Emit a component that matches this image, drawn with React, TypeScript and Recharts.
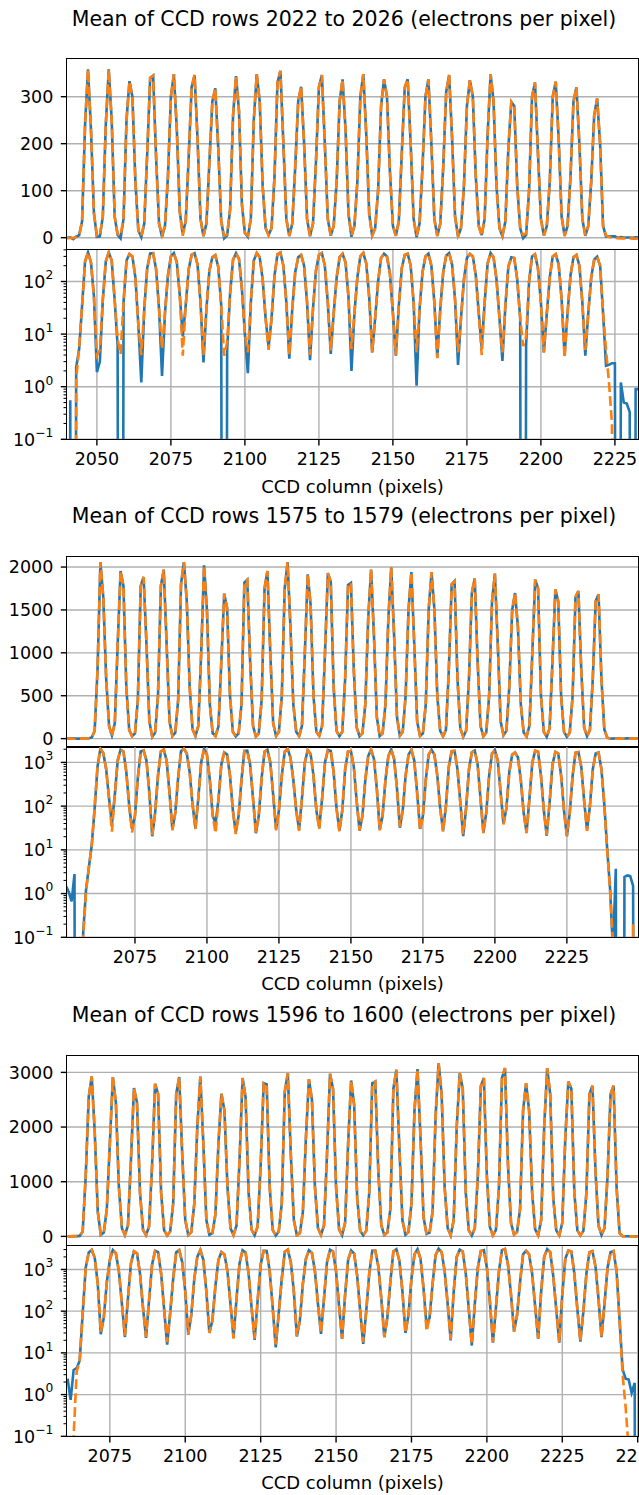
import { CartesianGrid, Line, LineChart, XAxis, YAxis } from "recharts";

// ---- data: mean electrons per pixel, one value per CCD column ----
// blue = solid line, orange = dashed line

const g1Start = 2040;
const g1Blue = [
  -0.4, 0.55, -3, 2.3, 5.2, 35, 240, 358, 230, 52,
  1.9, 3, 45, 240, 358, 250, 45, 6, -1.5, 40,
  250, 333, 300, 120, 15, 1.2, 30, 180, 340, 345,
  170, 30, 1.6, 25, 130, 300, 348, 230, 55, 9,
  35, 170, 320, 346, 210, 40, 2.9, 30, 160, 290,
  318, 190, 35, -1.2, 5, 60, 260, 344, 270, 70,
  10, 1.8, 40, 250, 348, 290, 110, 20, 5.6, 20,
  130, 330, 355, 200, 40, 3.4, 30, 150, 290, 321,
  200, 40, 3.2, 30, 160, 320, 346, 200, 40, 4.2,
  25, 120, 290, 337, 230, 50, 2, 25, 120, 300,
  348, 220, 50, 4.5, 20, 100, 280, 337, 300, 140,
  25, 3.9, 35, 180, 320, 337, 200, 40, 1.05, 30,
  150, 300, 337, 200, 40, 3.6, 30, 150, 310, 346,
  210, 45, 2.6, 20, 110, 280, 335, 300, 130, 25,
  5.6, 40, 220, 348, 290, 110, 20, 3.1, 35, 190,
  289, 280, 110, 20, -1, 6, 100, 300, 330, 180,
  40, 4.5, 25, 120, 300, 332, 210, 45, 4, 25,
  130, 290, 320, 200, 40, 3.9, 25, 120, 260, 296,
  200, 25, 2.5, 2.6, 2.8, 2.8, -0.5, 1.2, 0.5, 0.48,
  0.33, -0.4, 0.9, 0.9,
];
const g1Orange = [
  -1, -0.6, -0.4, 1.4, 5.5, 35, 240, 358, 230, 52,
  3.9, 5, 45, 240, 358, 250, 45, 8, 4.2, 42,
  250, 333, 300, 120, 15, 4, 30, 180, 340, 345,
  170, 30, 5.2, 25, 130, 300, 348, 230, 55, 3.9,
  35, 170, 320, 346, 210, 40, 4, 30, 160, 290,
  318, 190, 35, 3.9, 7, 60, 260, 344, 270, 70,
  10, 4.5, 40, 250, 348, 290, 110, 20, 5, 20,
  130, 330, 355, 200, 40, 4, 30, 150, 290, 321,
  200, 40, 4, 30, 160, 320, 346, 200, 40, 4.9,
  25, 120, 290, 337, 230, 50, 5.2, 25, 120, 300,
  348, 220, 50, 4.5, 20, 100, 280, 337, 300, 140,
  25, 4, 35, 180, 320, 337, 200, 40, 4.5, 30,
  150, 300, 337, 200, 40, 3.5, 30, 150, 310, 346,
  210, 45, 4.5, 20, 110, 280, 335, 300, 130, 25,
  4, 40, 220, 348, 290, 110, 20, 4.5, 35, 190,
  289, 280, 110, 20, 5.9, 9, 100, 300, 330, 180,
  40, 4.5, 25, 120, 300, 332, 210, 45, 3.5, 25,
  130, 290, 320, 200, 40, 5, 25, 120, 260, 296,
  200, 25, 5, 1.2, 0.2, -0.5, -1, -1.5, -1, -2,
  -1.5, -2, -2, -1.8,
];

const g2Start = 2051;
const g2Blue = [
  1.5, 1.1, 0.66, 2.8, -0.5, -0.4, 0.12, 1.2, 4, 13,
  90, 800, 2058, 1650, 700, 150, 40, 180, 1100, 1953,
  1780, 600, 100, 30, 60, 450, 1780, 1884, 1100, 200,
  20.5, 70, 500, 1780, 1970, 1100, 200, 29, 70, 450,
  1800, 2058, 1600, 600, 110, 31, 150, 1000, 2020, 1500,
  400, 60, 40, 140, 900, 1690, 1520, 500, 80, 25,
  60, 400, 1820, 1853, 900, 150, 24, 60, 450, 1750,
  1953, 1000, 180, 30, 80, 500, 1750, 2058, 1300, 400,
  80, 29, 150, 1000, 1915, 1560, 500, 80, 32, 150,
  1000, 1930, 1830, 600, 90, 27.5, 80, 700, 1790, 1814,
  800, 130, 27.5, 60, 400, 1400, 1970, 1200, 250, 29,
  60, 400, 1400, 1993, 1200, 250, 32, 80, 500, 1500,
  1942, 1100, 200, 30, 60, 400, 1500, 1942, 1500, 500,
  90, 27.5, 100, 800, 1800, 1837, 700, 120, 20.5, 90,
  700, 1700, 1865, 900, 150, 25, 70, 500, 1600, 1923,
  1100, 200, 40, 90, 600, 1500, 1697, 1300, 400, 70,
  25, 150, 1000, 1853, 1750, 500, 80, 21, 120, 900,
  1737, 1600, 500, 80, 20.5, 70, 500, 1650, 1720, 800,
  130, 29, 100, 700, 1600, 1682, 700, 110, 10.5, 1.3,
  0.05, 3.7, -0.3, -0.5, 2.4, 2.6, 2.5, 1.5, -0.4, -0.2,
];
const g2Orange = [
  0.15, -0.5, -0.8, -0.6, -0.5, -0.3, 0.1, 1.1, 4, 13,
  90, 800, 2058, 1650, 700, 150, 26, 180, 1100, 1953,
  1780, 600, 100, 25, 60, 450, 1780, 1884, 1100, 200,
  22, 70, 500, 1780, 1970, 1100, 200, 28, 70, 450,
  1800, 2058, 1600, 600, 110, 30, 150, 1000, 2020, 1500,
  400, 60, 24, 140, 900, 1690, 1520, 500, 80, 23,
  60, 400, 1820, 1853, 900, 150, 25, 60, 450, 1750,
  1953, 1000, 180, 28, 80, 500, 1750, 2058, 1300, 400,
  80, 27, 150, 1000, 1915, 1560, 500, 80, 30, 150,
  1000, 1930, 1830, 600, 90, 26, 80, 700, 1790, 1814,
  800, 130, 28, 60, 400, 1400, 1970, 1200, 250, 28,
  60, 400, 1400, 1993, 1200, 250, 34, 80, 500, 1500,
  1942, 1100, 200, 28, 60, 400, 1500, 1942, 1500, 500,
  90, 26, 100, 800, 1800, 1837, 700, 120, 23, 90,
  700, 1700, 1865, 900, 150, 24, 70, 500, 1600, 1923,
  1100, 200, 38, 90, 600, 1500, 1697, 1300, 400, 70,
  24, 150, 1000, 1853, 1750, 500, 80, 22, 120, 900,
  1737, 1600, 500, 80, 21, 70, 500, 1650, 1720, 800,
  130, 27, 100, 700, 1600, 1682, 700, 110, 10, 1.2,
  0.08, -0.5, -0.6, -0.8, -0.5, -0.4, -0.3, 0.2, -0.1, -0.3,
];

const g3Start = 2061;
const g3Blue = [
  2.4, 0.75, 3.9, 4.3, 6.5, 90, 1100, 2550, 2925, 1900,
  450, 28, 70, 500, 1700, 2914, 2450, 900, 150, 24,
  200, 1400, 2713, 2450, 800, 120, 23, 180, 1300, 2792,
  2600, 800, 110, 15.8, 90, 600, 2600, 2914, 1500, 300,
  27.5, 80, 600, 2000, 2925, 1700, 300, 30, 60, 400,
  1700, 2609, 2300, 900, 150, 23, 200, 1400, 2896, 2550,
  800, 120, 20.5, 180, 1300, 2804, 2780, 900, 120, 13.6,
  90, 600, 2650, 2987, 1500, 300, 24.7, 60, 450, 1800,
  2877, 2500, 900, 150, 28.5, 200, 1500, 2974, 2700, 900,
  130, 21.6, 250, 1700, 2852, 2400, 700, 100, 16.4, 100,
  800, 2800, 2834, 1200, 200, 23.7, 70, 500, 2700, 3048,
  1600, 300, 30, 80, 600, 2300, 3060, 1800, 350, 45,
  70, 450, 2200, 3170, 2600, 900, 150, 20, 300, 2000,
  2987, 2700, 800, 110, 15, 150, 1100, 2750, 2896, 1100,
  170, 17.5, 120, 900, 2900, 3078, 1300, 250, 33, 80,
  500, 2300, 2804, 2300, 800, 130, 21.6, 300, 2000, 3078,
  2600, 700, 110, 17.5, 250, 1800, 2834, 2700, 800, 110,
  18.5, 100, 800, 2600, 2755, 1200, 200, 23.7, 150, 1100,
  2600, 2755, 900, 60, 4, 2.4, 2.3, 1.1, 1.9, -0.5,
];
const g3Orange = [
  -1, -0.6, 0.1, 3.5, 6.5, 90, 1100, 2550, 2925, 1900,
  450, 32, 70, 500, 1700, 2914, 2450, 900, 150, 26,
  200, 1400, 2713, 2450, 800, 120, 24, 180, 1300, 2792,
  2600, 800, 110, 18, 90, 600, 2600, 2914, 1500, 300,
  28, 80, 600, 2000, 2925, 1700, 300, 30, 60, 400,
  1700, 2609, 2300, 900, 150, 22, 200, 1400, 2896, 2550,
  800, 120, 22, 180, 1300, 2804, 2780, 900, 120, 16,
  90, 600, 2650, 2987, 1500, 300, 25, 60, 450, 1800,
  2877, 2500, 900, 150, 30, 200, 1500, 2974, 2700, 900,
  130, 22, 250, 1700, 2852, 2400, 700, 100, 18, 100,
  800, 2800, 2834, 1200, 200, 24, 70, 500, 2700, 3048,
  1600, 300, 30, 80, 600, 2300, 3060, 1800, 350, 33,
  70, 450, 2200, 3170, 2600, 900, 150, 21, 300, 2000,
  2987, 2700, 800, 110, 16, 150, 1100, 2750, 2896, 1100,
  170, 18, 120, 900, 2900, 3078, 1300, 250, 32, 80,
  500, 2300, 2804, 2300, 800, 130, 22, 300, 2000, 3078,
  2600, 700, 110, 18, 250, 1800, 2834, 2700, 800, 110,
  19, 100, 800, 2600, 2755, 1200, 200, 24, 150, 1100,
  2600, 2755, 900, 60, 3, 0.5, 0.05, -0.5, -1, -1,
];

const g1XTicks = [2050, 2075, 2100, 2125, 2150, 2175, 2200, 2225];
const g2XTicks = [2075, 2100, 2125, 2150, 2175, 2200, 2225];
const g3XTicks = [2075, 2100, 2125, 2150, 2175, 2200, 2225, 2250];
const g1LinTicks = [0, 100, 200, 300];
const g2LinTicks = [0, 500, 1000, 1500, 2000];
const g3LinTicks = [0, 1000, 2000, 3000];
const logMajors = [0.1, 1, 10, 100, 1000];

// ---- layout ----
const FIG_W = 639;
const AX_LEFT = 67;
const AX_RIGHT = 638;
const PANEL_H = 190.3;
const LABEL_ROOM = 44;
const LIN_ROOM = 12;
const TITLE_CX = 344;
const FONT = "'DejaVu Sans', Verdana, sans-serif";
const TICK_FS = 17.5;
const BLUE = "#1f77b4";
const ORANGE = "#ff7f0e";

function makeRows(start: number, blue: number[], orange: number[], log: boolean) {
  // log axis: non-positive values are clipped far below the bottom, like matplotlib does
  const fix = (v: number) => (log && v <= 0 ? 1e-30 : v);
  return blue.map((b, i) => ({ col: start + i, blue: fix(b), orange: fix(orange[i]) }));
}

function logTicksUpTo(top: number) {
  const out: number[] = [];
  for (let e = -1; e <= 3; e++) {
    for (let m = 1; m <= 9; m++) {
      const v = m * Math.pow(10, e);
      if (v <= top) out.push(Number(v.toPrecision(3)));
    }
  }
  return out;
}

function LinTick(props: any) {
  const { x, y, payload } = props;
  return (
    <g>
      <line x1={x - 6.2} x2={x} y1={y} y2={y} stroke="#000" strokeWidth={1.4} />
      <text x={x - 13.7} y={y + 6.3} textAnchor="end" fontSize={TICK_FS} fontFamily={FONT} fill="#000">
        {payload.value}
      </text>
    </g>
  );
}

function LogTick(props: any) {
  const { x, y, payload } = props;
  const lg = Math.log10(payload.value);
  const e = Math.round(lg);
  if (Math.abs(lg - e) > 1e-6) {
    return <line x1={x - 3.5} x2={x} y1={y} y2={y} stroke="#000" strokeWidth={1.05} />;
  }
  const sup = e < 0 ? "\u2212" + Math.abs(e) : String(e);
  return (
    <g>
      <line x1={x - 6.2} x2={x} y1={y} y2={y} stroke="#000" strokeWidth={1.4} />
      <text x={x - 13.7} y={y + 6.6} textAnchor="end" fontSize={TICK_FS} fontFamily={FONT} fill="#000">
        <tspan>10</tspan>
        <tspan dy={-8.8} fontSize={12.3}>{sup}</tspan>
      </text>
    </g>
  );
}

function XTick(props: any) {
  const { x, y, payload } = props;
  return (
    <g>
      <line x1={x} x2={x} y1={y} y2={y + 6.2} stroke="#000" strokeWidth={1.4} />
      <text x={x} y={y + 25.8} textAnchor="middle" fontSize={TICK_FS} fontFamily={FONT} fill="#000">
        {payload.value}
      </text>
    </g>
  );
}

type PanelProps = {
  top: number;
  rows: { col: number; blue: number; orange: number }[];
  xDomain: [number, number];
  xTicks: number[];
  yDomain: [number, number];
  yTicks: number[];
  gridY: number[];
  log: boolean;
};

function Panel({ top, rows, xDomain, xTicks, yDomain, yTicks, gridY, log }: PanelProps) {
  const room = log ? LABEL_ROOM : 0;
  const below = log ? 0 : LIN_ROOM;
  return (
    <div style={{ position: "absolute", left: 0, top, width: FIG_W, height: PANEL_H + room + below }}>
      <LineChart
        width={FIG_W}
        height={PANEL_H + room + below}
        data={rows}
        margin={{ top: 0, right: FIG_W - AX_RIGHT, bottom: below, left: 0 }}
      >
        <CartesianGrid stroke="#b0b0b0" strokeWidth={1.4} horizontalValues={gridY} verticalValues={xTicks} />
        <XAxis
          type="number"
          dataKey="col"
          domain={xDomain}
          ticks={xTicks}
          allowDataOverflow
          interval={0}
          height={room}
          tickSize={0}
          tickMargin={0}
          axisLine={false}
          tickLine={false}
          tick={log ? XTick : false}
        />
        <YAxis
          type="number"
          scale={log ? "log" : "linear"}
          domain={yDomain}
          ticks={yTicks}
          allowDataOverflow
          interval={0}
          width={AX_LEFT}
          tickSize={0}
          tickMargin={0}
          axisLine={false}
          tickLine={false}
          tick={log ? LogTick : LinTick}
        />
        <Line type="linear" dataKey="blue" stroke={BLUE} strokeWidth={2.6} dot={false} isAnimationActive={false} />
        <Line
          type="linear"
          dataKey="orange"
          stroke={ORANGE}
          strokeWidth={2.6}
          strokeDasharray="9.8 4.2"
          dot={false}
          isAnimationActive={false}
        />
      </LineChart>
      <div
        style={{
          position: "absolute",
          left: AX_LEFT - 0.7,
          top: -0.7,
          width: AX_RIGHT - AX_LEFT + 1.4,
          height: PANEL_H + 1.4,
          border: "1.4px solid #000",
          boxSizing: "border-box",
          pointerEvents: "none",
        }}
      />
    </div>
  );
}

type GroupProps = {
  title: string;
  top: number;
  start: number;
  blue: number[];
  orange: number[];
  xDomain: [number, number];
  xTicks: number[];
  linDomain: [number, number];
  linTicks: number[];
  logTop: number;
};

function Group({ title, top, start, blue, orange, xDomain, xTicks, linDomain, linTicks, logTop }: GroupProps) {
  const linRows = makeRows(start, blue, orange, false);
  const logRows = makeRows(start, blue, orange, true);
  const textBase = { position: "absolute" as const, textAlign: "center" as const, fontFamily: FONT, whiteSpace: "nowrap" as const, color: "#000" };
  return (
    <>
      <div style={{ ...textBase, left: TITLE_CX - 300, width: 600, top: top - 40.5 - 15, height: 30, lineHeight: "30px", fontSize: 20.5 }}>
        {title}
      </div>
      <Panel top={top} rows={linRows} xDomain={xDomain} xTicks={xTicks} yDomain={linDomain} yTicks={linTicks} gridY={linTicks} log={false} />
      <Panel
        top={top + PANEL_H}
        rows={logRows}
        xDomain={xDomain}
        xTicks={xTicks}
        yDomain={[0.1, logTop]}
        yTicks={logTicksUpTo(logTop)}
        gridY={logMajors.filter((v) => v <= logTop)}
        log
      />
      <div style={{ ...textBase, left: AX_LEFT, width: AX_RIGHT - AX_LEFT, top: top + 2 * PANEL_H + 47 - 13, height: 26, lineHeight: "26px", fontSize: 18 }}>
        CCD column (pixels)
      </div>
    </>
  );
}

export default function App() {
  return (
    <div style={{ position: "absolute", left: 0, top: 0, width: FIG_W, height: 1495, background: "#fff", overflow: "hidden" }}>
      <Group
        title="Mean of CCD rows 2022 to 2026 (electrons per pixel)"
        top={59}
        start={g1Start}
        blue={g1Blue}
        orange={g1Orange}
        xDomain={[2039.9, 2232.8]}
        xTicks={g1XTicks}
        linDomain={[-24.7, 380.2]}
        linTicks={g1LinTicks}
        logTop={415}
      />
      <Group
        title="Mean of CCD rows 1575 to 1579 (electrons per pixel)"
        top={556.7}
        start={g2Start}
        blue={g2Blue}
        orange={g2Orange}
        xDomain={[2051.4, 2249.7]}
        xTicks={g2XTicks}
        linDomain={[-101, 2117]}
        linTicks={g2LinTicks}
        logTop={2250}
      />
      <Group
        title="Mean of CCD rows 1596 to 1600 (electrons per pixel)"
        top={1055.3}
        start={g3Start}
        blue={g3Blue}
        orange={g3Orange}
        xDomain={[2060.8, 2250.1]}
        xTicks={g3XTicks}
        linDomain={[-163, 3318]}
        linTicks={g3LinTicks}
        logTop={3650}
      />
    </div>
  );
}
